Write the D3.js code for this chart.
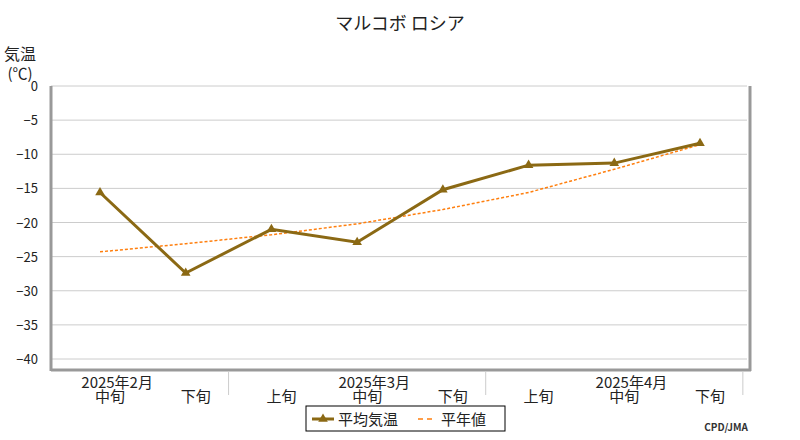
<!DOCTYPE html><html><head><meta charset="utf-8"><script src="https://cdn.jsdelivr.net/npm/d3@7"></script>
<style>body{margin:0;background:#fff}text{font-family:"Noto Sans CJK JP","DejaVu Sans",sans-serif}</style></head><body><svg id="c" width="800" height="440"></svg><script>
const categories=["中旬","下旬","上旬","中旬","下旬","上旬","中旬","下旬"];
const months=[{label:"2025年2月",i:0.2},{label:"2025年3月",i:3.2},{label:"2025年4月",i:6.2}];
const separators=[1.5,4.5,7.5];
const avgTemp=[-15.6,-27.4,-21.0,-22.9,-15.2,-11.6,-11.3,-8.4];
const normalTemp=[-24.3,-23.1,-21.8,-20.2,-18.1,-15.6,-12.2,-8.6];
const yTicks=[0,-5,-10,-15,-20,-25,-30,-35,-40];
const svg=d3.select("#c");
const x=d3.scaleLinear().domain([0,7]).range([100,700]);
const y=d3.scaleLinear().domain([0,-40]).range([86,359]);
const L=51,R=750,B=370;
svg.append("g").selectAll("line").data(yTicks).join("line").attr("x1",L).attr("x2",R-3).attr("y1",d=>y(d)).attr("y2",d=>y(d)).attr("stroke","#ccc");
svg.append("g").selectAll("text").data(yTicks).join("text").attr("x",38).attr("y",d=>y(d)+5).attr("text-anchor","end").attr("font-size",13).attr("font-family","DejaVu Sans").attr("fill","#222").text(d=>d===0?"0":"−"+Math.abs(d));
svg.append("line").attr("x1",L).attr("x2",L).attr("y1",86).attr("y2",B+1).attr("stroke","#999").attr("stroke-width",3);
svg.append("line").attr("x1",R).attr("x2",R).attr("y1",86).attr("y2",B+1).attr("stroke","#999").attr("stroke-width",3);
svg.append("line").attr("x1",L).attr("x2",R+1).attr("y1",B).attr("y2",B).attr("stroke","#999").attr("stroke-width",3);
svg.append("g").selectAll("line").data(separators).join("line").attr("x1",d=>x(d)).attr("x2",d=>x(d)).attr("y1",B+2).attr("y2",395).attr("stroke","#ccc");
svg.append("g").selectAll("text").data(categories).join("text").attr("x",(d,i)=>x(i)+10).attr("y",402).attr("text-anchor","middle").attr("font-size",15).attr("fill","#222").text(d=>d);
svg.append("g").selectAll("text").data(months).join("text").attr("x",d=>x(d.i)).attr("y",388).attr("text-anchor","middle").attr("font-size",15).attr("fill","#222").text(d=>d.label);
svg.append("path").datum(normalTemp).attr("d",d3.line().x((d,i)=>x(i)).y(d=>y(d))).attr("fill","none").attr("stroke","#ff7f0e").attr("stroke-width",1.5).attr("stroke-dasharray","3,2");
svg.append("path").datum(avgTemp).attr("d",d3.line().x((d,i)=>x(i)).y(d=>y(d))).attr("fill","none").attr("stroke","#8b6914").attr("stroke-width",3);
svg.append("g").selectAll("path").data(avgTemp).join("path").attr("transform",(d,i)=>`translate(${x(i)},${y(d)})`).attr("d",d3.symbol(d3.symbolTriangle,40)).attr("fill","#8b6914");
svg.append("text").attr("x",400).attr("y",30).attr("text-anchor","middle").attr("font-size",18).attr("fill","#222").text("マルコボ ロシア");
svg.append("text").attr("x",20).attr("y",60).attr("text-anchor","middle").attr("font-size",16).attr("fill","#222").text("気温");
svg.append("text").attr("x",20).attr("y",79).attr("text-anchor","middle").attr("font-size",15).attr("fill","#222").text("(℃)");
const lg=svg.append("g");
lg.append("rect").attr("x",306).attr("y",406).attr("width",199).attr("height",25).attr("fill","#fff").attr("stroke","#000");
lg.append("line").attr("x1",312).attr("x2",334).attr("y1",419).attr("y2",419).attr("stroke","#8b6914").attr("stroke-width",3);
lg.append("path").attr("transform","translate(323,419)").attr("d",d3.symbol(d3.symbolTriangle,40)).attr("fill","#8b6914");
lg.append("text").attr("x",338).attr("y",425).attr("font-size",15).attr("fill","#222").text("平均気温");
lg.append("line").attr("x1",418).attr("x2",436).attr("y1",419).attr("y2",419).attr("stroke","#ff7f0e").attr("stroke-width",1.5).attr("stroke-dasharray","5,4");
lg.append("text").attr("x",441).attr("y",425).attr("font-size",15).attr("fill","#222").text("平年値");
svg.append("text").attr("x",748).attr("y",431).attr("text-anchor","end").attr("font-size",10).attr("font-weight","bold").attr("font-family","DejaVu Sans Mono").attr("fill","#333").text("CPD/JMA");
</script></body></html>
